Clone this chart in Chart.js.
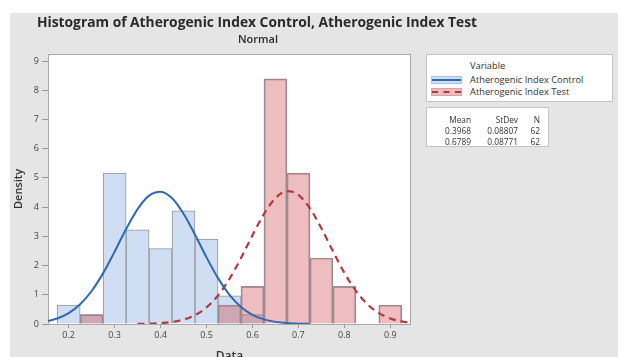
<!DOCTYPE html>
<html>
<head>
<meta charset="utf-8">
<script src="https://cdn.jsdelivr.net/npm/chart.js@4/dist/chart.umd.min.js"></script>
<style>
  html, body { margin:0; padding:0; background:#fff; }
  #wrap { position:relative; width:618px; height:357px; overflow:hidden; font-family:"Open Sans", "Noto Sans", sans-serif; color:#333; }
  #c { position:absolute; left:0; top:0; }
  .abs { position:absolute; white-space:nowrap; }
  #title { left:0; width:514px; top:13px; text-align:center; font-weight:700; font-size:13.8px; color:#2a2a2a; line-height:18px; }
  #subtitle { left:0; width:516px; top:31px; text-align:center; font-weight:600; font-size:11px; color:#2a2a2a; line-height:15px; }
  #legend { left:426px; top:54px; width:187px; height:48px; background:#fff; border:1px solid #c4c4c4; box-sizing:border-box; }
  #stats { left:426px; top:107px; width:123px; height:40px; background:#fff; border:1px solid #c4c4c4; box-sizing:border-box; }
  .ltxt { font-size:9.3px; line-height:12px; color:#333; }
  .stxt { font-size:8.3px; line-height:11px; color:#333; text-align:right; }
  .swatch { position:absolute; width:31px; height:8px; box-sizing:border-box; }
</style>
</head>
<body>
<div id="wrap">
  <canvas id="c" width="618" height="357"></canvas>
  <div id="title" class="abs"></div>
  <div id="subtitle" class="abs"></div>
  <div id="legend" class="abs"></div>
  <div id="stats" class="abs"></div>
</div>
<script>
// ---- Data ----
const chartTitle = "Histogram of Atherogenic Index Control, Atherogenic Index Test";
const chartSubtitle = "Normal";
const xAxisTitle = "Data";
const yAxisTitle = "Density";
const seriesNames = ["Atherogenic Index Control", "Atherogenic Index Test"];

// histogram bin centres (bin width 0.05)
const binCenters = [0.20, 0.25, 0.30, 0.35, 0.40, 0.45, 0.50, 0.55, 0.60, 0.65, 0.70, 0.75, 0.80, 0.85, 0.90];
const controlDensity = [0.645, 0.323, 5.161, 3.226, 2.581, 3.871, 2.903, 0.968, 0.323, 0, 0, 0, 0, 0, 0];
const testDensity    = [0, 0.323, 0, 0, 0, 0, 0, 0.645, 1.290, 8.387, 5.161, 2.258, 1.290, 0, 0.645];

// fitted normal curves
const controlCurveX = [0.155, 0.175, 0.200, 0.225, 0.250, 0.275, 0.300, 0.325, 0.350, 0.375, 0.400, 0.425, 0.450, 0.475, 0.500, 0.525, 0.550, 0.575, 0.600, 0.625, 0.650, 0.675, 0.700, 0.725];
const controlCurveY = [0.104, 0.190, 0.373, 0.676, 1.129, 1.741, 2.476, 3.249, 3.933, 4.393, 4.527, 4.303, 3.774, 3.054, 2.280, 1.570, 0.998, 0.585, 0.316, 0.158, 0.073, 0.031, 0.012, 0.004];
const testCurveX = [0.350, 0.375, 0.400, 0.425, 0.450, 0.475, 0.500, 0.525, 0.550, 0.575, 0.600, 0.625, 0.650, 0.675, 0.700, 0.725, 0.750, 0.775, 0.800, 0.825, 0.850, 0.875, 0.900, 0.925, 0.945];
const testCurveY = [0.004, 0.011, 0.029, 0.069, 0.151, 0.305, 0.568, 0.976, 1.545, 2.255, 3.035, 3.766, 4.308, 4.544, 4.419, 3.961, 3.275, 2.496, 1.753, 1.136, 0.679, 0.374, 0.190, 0.089, 0.046];

// summary table
const statHeaders = ["Mean", "StDev", "N"];
const statMeans = ["0.3968", "0.6789"];
const statStDevs = ["0.08807", "0.08771"];
const statNs = ["62", "62"];

const xTicksMin = 0.155, xTicksMax = 0.945, xStep = 0.1;
const yTicksMin = 0, yTicksMax = 9.24, yStep = 1;

// ---- styles ----
const blueFill = "#cfdef2", blueLine = "#2f69b3";
const redFill = "rgba(205,62,68,0.34)", redLine = "#b23a3e";
const barEdge = "#959595";

function toPoints(xs, ys, skipZero) {
  const out = [];
  for (let i = 0; i < xs.length; i++) {
    if (skipZero && !ys[i]) continue;
    out.push({x: xs[i], y: ys[i]});
  }
  return out;
}

const bgPlugin = {
  id: "bg",
  beforeDraw(chart) {
    const {ctx, chartArea: a} = chart;
    ctx.save();
    ctx.fillStyle = "#ffffff";
    ctx.fillRect(0, 0, chart.width, chart.height);
    ctx.fillStyle = "#e5e5e5";
    ctx.fillRect(10, 13, chart.width - 10, chart.height - 13);
    ctx.fillStyle = "#ffffff";
    ctx.fillRect(a.left, a.top, a.right - a.left, a.bottom - a.top);
    ctx.restore();
  },
  beforeDatasetsDraw(chart) {
    const {ctx, chartArea: a} = chart;
    ctx.save();
    ctx.strokeStyle = "#a9a9a9";
    ctx.lineWidth = 1;
    ctx.strokeRect(Math.round(a.left) + 0.5, Math.round(a.top) + 0.5, Math.round(a.right - a.left) - 1, Math.round(a.bottom - a.top));
    ctx.restore();
  }
};

const tickFont = {family: "'Open Sans', 'Noto Sans', sans-serif", size: 9};

new Chart(document.getElementById("c"), {
  type: "bar",
  data: {
    datasets: [
      { type: "line", label: seriesNames[0], data: toPoints(controlCurveX, controlCurveY, false),
        borderColor: blueLine, borderWidth: 2, pointRadius: 0, fill: false, cubicInterpolationMode: "monotone" },
      { type: "line", label: seriesNames[1], data: toPoints(testCurveX, testCurveY, false),
        borderColor: redLine, borderWidth: 2.2, borderDash: [7, 5], pointRadius: 0, fill: false, cubicInterpolationMode: "monotone" },
      { type: "bar", label: seriesNames[1] + " bars", data: toPoints(binCenters, testDensity, true),
        backgroundColor: redFill, borderColor: barEdge, borderWidth: 1, grouped: false,
        barPercentage: 1, categoryPercentage: 1 },
      { type: "bar", label: seriesNames[0] + " bars", data: toPoints(binCenters, controlDensity, true),
        backgroundColor: blueFill, borderColor: barEdge, borderWidth: 1, grouped: false,
        barPercentage: 1, categoryPercentage: 1 }
    ]
  },
  options: {
    responsive: false,
    animation: false,
    devicePixelRatio: 1,
    layout: { padding: { left: 0, top: 54, right: 207, bottom: 0 } },
    plugins: { legend: { display: false }, tooltip: { enabled: false }, title: { display: false } },
    scales: {
      x: {
        type: "linear", position: "bottom", offset: false,
        min: xTicksMin, max: xTicksMax,
        ticks: { stepSize: xStep, includeBounds: false, color: "#444", font: tickFont, padding: 2,
                 callback: v => Number(v).toFixed(1), maxRotation: 0, autoSkip: false },
        grid: { display: true, drawOnChartArea: false, drawTicks: true, tickLength: 4, color: "#9a9a9a", offset: false },
        border: { display: false },
        title: { display: true, text: xAxisTitle, color: "#333",
                 font: { family: "'Open Sans', 'Noto Sans', sans-serif", size: 12, weight: "600" },
                 padding: { top: 0, bottom: -7 } },
        afterFit(s) { s.height = 33; }
      },
      y: {
        type: "linear", min: yTicksMin, max: yTicksMax,
        ticks: { stepSize: yStep, includeBounds: false, color: "#444", font: tickFont, padding: 3 },
        grid: { display: true, drawOnChartArea: false, drawTicks: true, tickLength: 6, color: "#9a9a9a" },
        border: { display: false },
        title: { display: true, text: yAxisTitle, color: "#333",
                 font: { family: "'Open Sans', 'Noto Sans', sans-serif", size: 11, weight: "600" },
                 padding: { top: 12, bottom: 0 } },
        afterFit(s) { s.width = 48; }
      }
    }
  },
  plugins: [bgPlugin]
});

// ---- HTML text: title, legend, stats ----
document.getElementById("title").textContent = chartTitle;
document.getElementById("subtitle").textContent = chartSubtitle;

const legend = document.getElementById("legend");
function addAbs(parent, cls, text, left, top, extra) {
  const d = document.createElement("div");
  d.className = "abs " + cls;
  d.textContent = text;
  d.style.left = left + "px";
  d.style.top = top + "px";
  if (extra) Object.assign(d.style, extra);
  parent.appendChild(d);
  return d;
}
addAbs(legend, "ltxt", "Variable", 43, 5);
function swatch(top, fill, line, dashed) {
  const s = document.createElement("div");
  s.className = "swatch";
  s.style.left = "4px"; s.style.top = top + "px";
  s.style.background = fill;
  s.style.border = "1px solid " + (dashed ? "#dba2a4" : "#a9c1e3");
  const l = document.createElement("div");
  l.style.position = "absolute"; l.style.left = "0"; l.style.right = "0"; l.style.top = "2px";
  l.style.height = "0";
  l.style.borderTop = "2px " + (dashed ? "dashed " : "solid ") + line;
  s.appendChild(l);
  legend.appendChild(s);
}
swatch(21, "#cfdef2", blueLine, false);
swatch(33, "#ecbcbe", redLine, true);
addAbs(legend, "ltxt", seriesNames[0], 43, 19);
addAbs(legend, "ltxt", seriesNames[1], 43, 31);

const stats = document.getElementById("stats");
const colRights = [44, 91, 113];
const rowTops = [7, 18, 29];
const headerRow = statHeaders;
const rows = [headerRow, [statMeans[0], statStDevs[0], statNs[0]], [statMeans[1], statStDevs[1], statNs[1]]];
rows.forEach((r, ri) => {
  r.forEach((t, ci) => {
    const d = addAbs(stats, "stxt", t, 0, rowTops[ri] - 1);
    d.style.left = "auto";
    d.style.right = (123 - 2 - colRights[ci]) + "px";
  });
});
</script>
</body>
</html>
